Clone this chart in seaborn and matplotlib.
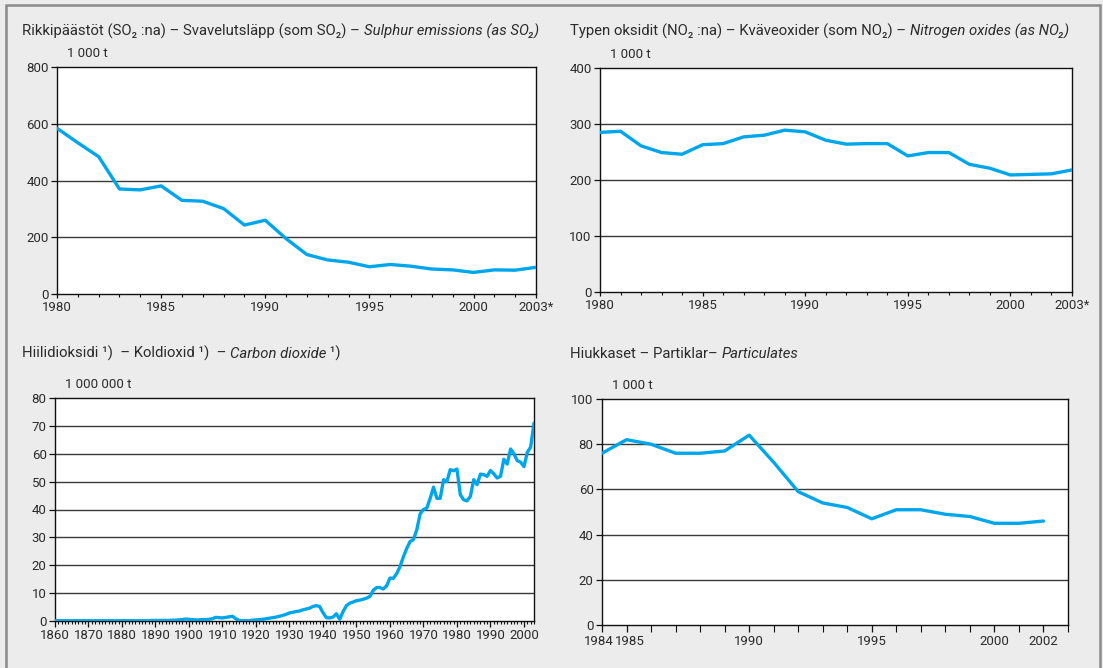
"""
Four-panel emissions chart (SO2, NOx, CO2, particulates), Finnish/Swedish/English titles.
Writes: out.png
"""
import matplotlib.pyplot as plt
import matplotlib.transforms as mtransforms
import seaborn as sns
from matplotlib.patches import Rectangle

sns.set_style("white")
plt.rcParams["font.family"] = ["Roboto", "DejaVu Sans"]

W, H = 1103, 668
BLUE = "#00A6EB"
GRID = "#3a3a3a"
BG = "#ececec"
TEXT = "#2b2b2b"
TITLE_SIZE = 10.7
TICK_SIZE = 9.5

# --- data -----------------------------------------------------------------
SO2_YEARS = list(range(1980, 2004))
SO2_VALUES = [584, 533, 484, 370, 367, 381, 330, 327, 301, 243, 260, 195,
              139, 120, 112, 96, 104, 98, 88, 85, 76, 85, 84, 94]
SO2_TICKS = [1980, 1985, 1990, 1995, 2000, 2003]
SO2_TICKLABELS = ["1980", "1985", "1990", "1995", "2000", "2003*"]

NOX_YEARS = list(range(1980, 2004))
NOX_VALUES = [285, 287, 261, 249, 246, 263, 265, 277, 280, 289, 286, 271,
              264, 265, 265, 243, 249, 249, 228, 221, 209, 210, 211, 218]
NOX_TICKS = [1980, 1985, 1990, 1995, 2000, 2003]
NOX_TICKLABELS = ["1980", "1985", "1990", "1995", "2000", "2003*"]

CO2_YEARS = list(range(1860, 2004))
CO2_VALUES = [
    0.1, 0.1, 0.1, 0.1, 0.1, 0.1, 0.1, 0.1, 0.1, 0.1,      # 1860s
    0.1, 0.1, 0.1, 0.1, 0.1, 0.1, 0.1, 0.1, 0.1, 0.1,      # 1870s
    0.1, 0.1, 0.1, 0.1, 0.1, 0.1, 0.1, 0.1, 0.1, 0.2,      # 1880s
    0.2, 0.2, 0.2, 0.2, 0.2, 0.3, 0.3, 0.4, 0.5, 0.7,      # 1890s
    0.6, 0.5, 0.4, 0.4, 0.5, 0.5, 0.6, 0.8, 1.3, 1.2,      # 1900s
    1.1, 1.3, 1.5, 1.7, 0.8, 0.2, 0.1, 0.1, 0.1, 0.3,      # 1910s
    0.4, 0.5, 0.6, 0.8, 1.0, 1.2, 1.4, 1.7, 2.0, 2.4,      # 1920s
    2.9, 3.1, 3.4, 3.6, 4.0, 4.3, 4.6, 5.2, 5.5, 5.2,      # 1930s
    3.0, 1.2, 1.1, 1.4, 2.6, 0.6, 3.4, 5.5, 6.4, 6.8,      # 1940s
    7.3, 7.5, 7.8, 8.2, 8.8, 11.0, 12.0, 12.0, 11.5, 12.6,  # 1950s
    15.4, 15.3, 17.0, 19.5, 23.0, 26.0, 28.5, 29.2, 32.7, 38.4,  # 1960s
    40.0, 40.5, 44.0, 48.0, 44.0, 44.0, 50.7, 50.0, 54.3, 53.9,  # 1970s
    54.5, 45.3, 43.5, 43.1, 44.7, 50.7, 48.9, 52.7, 52.5, 51.9,  # 1980s
    54.0, 52.8, 51.3, 51.9, 58.0, 56.3, 61.7, 60.0, 57.5, 57.0,  # 1990s
    55.4, 60.5, 62.4, 71.0,                                # 2000s
]
CO2_TICKS = list(range(1860, 2001, 10))
CO2_TICKLABELS = [str(y) for y in CO2_TICKS]

PART_YEARS = list(range(1984, 2003))
PART_VALUES = [76, 82, 80, 76, 76, 77, 84, 72, 59, 54, 52, 47, 51, 51,
               49, 48, 45, 45, 46]
PART_TICKS = [1984, 1985, 1990, 1995, 2000, 2002]
PART_TICKLABELS = ["1984", "1985", "1990", "1995", "2000", "2002"]

TITLES = [
    (22, 39, [("Rikkipäästöt (SO\u2082 :na) – Svavelutsläpp (som SO\u2082) – ", "normal"),
              ("Sulphur emissions (as SO\u2082)", "italic")]),
    (570, 39, [("Typen oksidit (NO\u2082 :na) – Kväveoxider (som NO\u2082) – ", "normal"),
               ("Nitrogen oxides (as NO\u2082)", "italic")]),
    (22, 361, [("Hiilidioksidi \u00b9)  – Koldioxid \u00b9)  – ", "normal"),
               ("Carbon dioxide", "italic"), (" \u00b9)", "normal")]),
    (570, 361, [("Hiukkaset – Partiklar– ", "normal"),
                ("Particulates", "italic")]),
]


def px_axes(fig, l, t, r, b):
    return fig.add_axes([l / W, (H - b) / H, (r - l) / W, (b - t) / H])


def draw_title(fig, x, y, parts):
    """Chain text pieces left to right, each anchored to the previous one."""
    txt, style = parts[0]
    prev = fig.text(x / W, 1 - y / H, txt, fontsize=TITLE_SIZE, style=style,
                    color=TEXT, ha="left", va="bottom")
    for txt, style in parts[1:]:
        prev = fig.add_artist(plt.Annotation(
            txt, xy=(1, 0), xycoords=prev, fontsize=TITLE_SIZE, style=style,
            color=TEXT, ha="left", va="bottom"))


def style_axes(ax, xlim, ylim, yticks, xticks, xticklabels, minor=None,
               major_len=3.0, minor_len=2.0):
    ax.set_xlim(*xlim)
    ax.set_ylim(*ylim)
    ax.set_facecolor("white")
    ax.set_xlabel("")
    ax.set_ylabel("")
    ax.set_yticks(yticks)
    ax.set_yticklabels([str(v) for v in yticks])
    ax.set_xticks(xticks)
    ax.set_xticklabels(xticklabels)
    if minor is not None:
        ax.set_xticks(minor, minor=True)
    ax.grid(False)
    for v in yticks[1:-1]:
        ax.axhline(v, color=GRID, lw=1.0, zorder=1)
    for sp in ax.spines.values():
        sp.set_visible(True)
        sp.set_color("#111111")
        sp.set_linewidth(1.0)
    ax.tick_params(axis="both", which="major", direction="out", length=major_len,
                   width=0.9, color="#111111", labelsize=TICK_SIZE,
                   labelcolor=TEXT, pad=2, left=True, bottom=True)
    ax.tick_params(axis="x", which="minor", direction="out", length=minor_len,
                   width=0.8, color="#111111", bottom=True)
    ax.tick_params(axis="y", length=4)


def unit_label(ax, txt):
    ax.annotate(txt, xy=(0, 1), xycoords="axes fraction", xytext=(7, 5),
                textcoords="offset points", fontsize=TICK_SIZE, color=TEXT,
                ha="left", va="bottom")


def main():
    fig = plt.figure(figsize=(W / 100, H / 100), dpi=100)
    fig.patch.set_facecolor(BG)
    fig.add_artist(Rectangle((6 / W, -0.05), (1100 - 6) / W, 1.05 - 5 / H,
                             transform=fig.transFigure, fill=False,
                             edgecolor="#8a8a8a", lw=1.8))

    # sulphur
    ax1 = px_axes(fig, 57, 67, 536, 294)
    sns.lineplot(x=SO2_YEARS, y=SO2_VALUES, ax=ax1, color=BLUE, lw=2.4,
                 zorder=3)
    style_axes(ax1, (1980, 2003), (0, 800), [0, 200, 400, 600, 800],
               SO2_TICKS, SO2_TICKLABELS, minor=SO2_YEARS)
    unit_label(ax1, "1 000 t")

    # nitrogen oxides
    ax2 = px_axes(fig, 600, 68, 1072, 292)
    sns.lineplot(x=NOX_YEARS, y=NOX_VALUES, ax=ax2, color=BLUE, lw=2.4,
                 zorder=3)
    style_axes(ax2, (1980, 2003), (0, 400), [0, 100, 200, 300, 400],
               NOX_TICKS, NOX_TICKLABELS, minor=NOX_YEARS)
    unit_label(ax2, "1 000 t")

    # carbon dioxide
    ax3 = px_axes(fig, 55, 398, 534, 621)
    sns.lineplot(x=CO2_YEARS, y=CO2_VALUES, ax=ax3, color=BLUE, lw=2.4,
                 zorder=3)
    style_axes(ax3, (1860, 2003), (0, 80), list(range(0, 81, 10)),
               CO2_TICKS, CO2_TICKLABELS, minor=CO2_YEARS,
               major_len=4.0, minor_len=2.0)
    unit_label(ax3, "1 000 000 t")

    # particulates
    ax4 = px_axes(fig, 602, 399, 1068, 625)
    sns.lineplot(x=PART_YEARS, y=PART_VALUES, ax=ax4, color=BLUE, lw=2.4,
                 zorder=3)
    style_axes(ax4, (1984, 2003), (0, 100), [0, 20, 40, 60, 80, 100],
               PART_TICKS, PART_TICKLABELS, minor=list(range(1984, 2004)),
               major_len=5.0, minor_len=5.0)
    unit_label(ax4, "1 000 t")
    # the first two labels sit one year apart; nudge them apart a little
    labels = ax4.get_xticklabels()
    for lab, dx in ((labels[0], -3), (labels[1], 3)):
        lab.set_transform(lab.get_transform() + mtransforms.ScaledTranslation(
            dx / 100, 0, fig.dpi_scale_trans))

    for x, y, parts in TITLES:
        draw_title(fig, x, y, parts)

    fig.savefig("out.png", dpi=100, facecolor=BG)
    plt.close(fig)


if __name__ == "__main__":
    main()
